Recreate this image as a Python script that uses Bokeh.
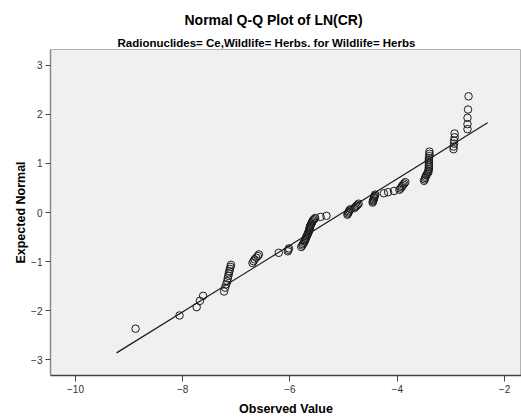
import numpy as np
from bokeh.plotting import figure
from bokeh.models import Title, Range1d, FixedTicker
from bokeh.embed import file_html
from bokeh.resources import INLINE

observed = [
    -8.88, -8.06, -7.74, -7.68, -7.62,
    -7.23, -7.21, -7.19, -7.17, -7.16, -7.15, -7.14, -7.13, -7.12, -7.11, -7.10,
    -6.70, -6.68, -6.66, -6.63, -6.60, -6.58,
    -6.21,
    -6.04, -6.03, -6.02,
    -5.79, -5.77, -5.76, -5.74, -5.73, -5.72, -5.71, -5.70, -5.69, -5.68,
    -5.67, -5.66, -5.65, -5.64, -5.64, -5.63, -5.63, -5.62, -5.61, -5.60,
    -5.59, -5.58, -5.57, -5.55, -5.53,
    -5.43, -5.32,
    -4.93, -4.92, -4.91, -4.90, -4.89, -4.87, -4.80, -4.78, -4.76, -4.74, -4.72,
    -4.46, -4.45, -4.45, -4.44, -4.43, -4.43, -4.42, -4.41,
    -4.25, -4.17, -4.06,
    -3.96, -3.94, -3.92, -3.91, -3.89, -3.87, -3.85,
    -3.50, -3.49, -3.48, -3.47, -3.46, -3.44, -3.42, -3.42, -3.41, -3.41,
    -3.41, -3.41, -3.41, -3.41, -3.41, -3.40, -3.40, -3.40,
    -2.95, -2.95, -2.94, -2.94, -2.93, -2.93,
    -2.69, -2.69, -2.69, -2.68, -2.67,
]

# Expected normal values
expected_normal = [
    -2.369, -2.100, -1.931, -1.802, -1.699,
    -1.611, -1.534, -1.465, -1.403, -1.345, -1.291, -1.242, -1.195, -1.150, -1.108, -1.068,
    -1.029, -0.992, -0.956, -0.921, -0.887, -0.854,
    -0.822,
    -0.792, -0.761, -0.732,
    -0.703, -0.674, -0.646, -0.619, -0.592, -0.566, -0.540, -0.514, -0.489, -0.464,
    -0.439, -0.415, -0.391, -0.366, -0.342, -0.319, -0.295, -0.272, -0.249, -0.226,
    -0.203, -0.180, -0.157, -0.135, -0.112,
    -0.090, -0.067,
    -0.045, -0.022, 0.000, 0.022, 0.045, 0.067, 0.090, 0.112, 0.135, 0.157, 0.180,
    0.203, 0.226, 0.249, 0.272, 0.295, 0.319, 0.342, 0.366,
    0.391, 0.415, 0.439,
    0.464, 0.489, 0.514, 0.540, 0.566, 0.592, 0.619,
    0.646, 0.674, 0.703, 0.732, 0.761, 0.792, 0.822, 0.854, 0.887, 0.921,
    0.956, 0.992, 1.029, 1.068, 1.108, 1.150, 1.195, 1.242,
    1.291, 1.345, 1.403, 1.465, 1.534, 1.611,
    1.699, 1.802, 1.931, 2.100, 2.369,
]

x_ticks = [-10, -8, -6, -4, -2]
y_ticks = [-3, -2, -1, 0, 1, 2, 3]
title_text = "Normal Q-Q Plot of LN(CR)"
subtitle_text = "Radionuclides= Ce,Wildlife= Herbs.  for Wildlife= Herbs"
x_label = "Observed Value"
y_label = "Expected Normal"

FONT = "Liberation Sans"

p = figure(width=521, height=418, output_backend="svg", toolbar_location=None,
           x_range=Range1d(-10.466, -1.683), y_range=Range1d(-3.324, 3.324),
           min_border_left=50, min_border_right=0, min_border_top=49, min_border_bottom=41)

p.background_fill_color = "#f0f0f0"
p.border_fill_color = "white"
p.outline_line_color = "#b4b4b4"
p.grid.visible = False

# reference line: y = (x - mean)/sd
obs = np.array(observed)
mean = obs.mean()
sd = obs.std(ddof=1)
rng = obs.max() - obs.min()
line_x = np.array([obs.min() - 0.057 * rng, obs.max() + 0.057 * rng])
line_y = (line_x - mean) / sd
p.line(line_x, line_y, line_color="#1a1a1a", line_width=1.2)

p.scatter(observed, expected_normal, size=7.5, marker="circle",
          fill_color=None, line_color="#1a1a1a", line_width=1)

for ax in (p.xaxis[0], p.yaxis[0]):
    ax.major_label_text_font = FONT
    ax.major_label_text_font_size = "10px"
    ax.major_label_text_color = "#333333"
    ax.axis_label_text_font = FONT
    ax.axis_label_text_font_style = "bold"
    ax.axis_label_text_font_size = "12.5px"
    ax.axis_label_text_color = "black"
    ax.minor_tick_line_color = None
    ax.major_tick_in = 0

p.xaxis.ticker = FixedTicker(ticks=x_ticks)
p.yaxis.ticker = FixedTicker(ticks=y_ticks)
p.xaxis.axis_label = x_label
p.yaxis.axis_label = y_label
p.xaxis.major_tick_out = 6
p.yaxis.major_tick_out = 5
p.xaxis.major_label_standoff = 3
p.yaxis.major_label_standoff = 3
p.xaxis.axis_label_standoff = 6
p.yaxis.axis_label_standoff = 0
p.xaxis.axis_line_color = "#444444"
p.xaxis.major_tick_line_color = "#444444"
p.yaxis.axis_line_color = "#8c8c8c"
p.yaxis.major_tick_line_color = "#444444"
p.xaxis.axis_line_width = 1.5
p.yaxis.axis_line_width = 1.5

# subtitle first (closest to the frame), then main title
p.add_layout(Title(text=subtitle_text, text_font=FONT, text_font_style="bold",
                   text_font_size="11.5px", text_color="black", align="left",
                   offset=67, standoff=2), "above")
p.add_layout(Title(text=title_text, text_font=FONT, text_font_style="bold",
                   text_font_size="14px", text_color="black", align="left",
                   offset=134, standoff=8, vertical_align="top"), "above")

open("out.html", "w").write(file_html(p, INLINE))
